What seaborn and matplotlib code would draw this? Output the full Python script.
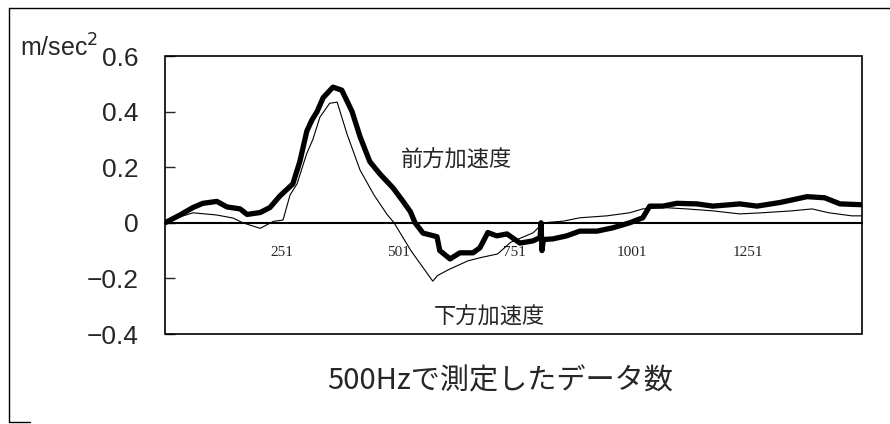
import numpy as np
import pandas as pd
import seaborn as sns
import matplotlib
matplotlib.use("Agg")
import matplotlib.pyplot as plt
from matplotlib.patches import Rectangle
from matplotlib.lines import Line2D

# 前方加速度 (thick line)
fwd_n = [1, 33, 61, 82, 112, 134, 162, 177, 205, 226, 247, 275, 290, 305, 316,
         327, 340, 361, 380, 402, 419, 440, 462, 490, 510, 527, 537, 554, 584,
         590, 612, 633, 661, 676, 693, 712, 734, 762, 790, 805, 807, 809, 812,
         832, 862, 890, 927, 961, 997, 1025, 1040, 1068, 1098, 1141, 1175, 1212,
         1233, 1270, 1319, 1347, 1377, 1415, 1448, 1495]
fwd_v = [0.0, 0.028, 0.055, 0.07, 0.077, 0.057, 0.05, 0.03, 0.037, 0.055, 0.096,
         0.14, 0.22, 0.33, 0.37, 0.40, 0.45, 0.488, 0.477, 0.40, 0.31, 0.22,
         0.175, 0.125, 0.08, 0.04, 0.0, -0.037, -0.05, -0.10, -0.13, -0.108,
         -0.108, -0.09, -0.035, -0.047, -0.04, -0.073, -0.065, -0.053, 0.0,
         -0.10, -0.06, -0.058, -0.047, -0.03, -0.03, -0.018, 0.0, 0.018, 0.06,
         0.06, 0.07, 0.068, 0.06, 0.065, 0.068, 0.06, 0.073, 0.083, 0.094, 0.09,
         0.068, 0.065]

# 下方加速度 (thin line)
down_n = [1, 12, 61, 112, 147, 168, 205, 233, 254, 269, 284, 305, 318, 333, 354,
          370, 391, 419, 449, 477, 492, 528, 575, 585, 607, 650, 678, 714, 742,
          790, 812, 855, 890, 948, 997, 1025, 1068, 1119, 1175, 1233, 1280, 1345,
          1388, 1424, 1473, 1495]
down_v = [0.0, 0.01, 0.036, 0.028, 0.017, 0.0, -0.02, 0.005, 0.01, 0.10, 0.14,
          0.25, 0.30, 0.38, 0.43, 0.434, 0.32, 0.19, 0.10, 0.03, 0.0, -0.10,
          -0.21, -0.19, -0.17, -0.137, -0.125, -0.112, -0.07, -0.036, 0.0, 0.006,
          0.018, 0.025, 0.036, 0.05, 0.055, 0.05, 0.043, 0.032, 0.036, 0.043,
          0.05, 0.036, 0.025, 0.025]

xticks = [251, 501, 751, 1001, 1251]
yticks = [0.6, 0.4, 0.2, 0.0, -0.2, -0.4]
ylabels = ["0.6", "0.4", "0.2", "0", "\u22120.2", "\u22120.4"]

sns.set_style("white")
plt.rcParams['font.family'] = ['Noto Sans CJK JP', 'DejaVu Sans']

fwd = pd.DataFrame({"n": fwd_n, "v": fwd_v})
down = pd.DataFrame({"n": down_n, "v": down_v})

fig = plt.figure(figsize=(8.9, 4.24), dpi=100)
ax = fig.add_axes([165/890, 1-334/424, (862-165)/890, (334-56)/424])

sns.lineplot(data=down, x="n", y="v", color="black", lw=0.8, ax=ax)
sns.lineplot(data=fwd, x="n", y="v", color="black", lw=3.8, ax=ax)

ax.set_xlim(1, 1495)
ax.set_ylim(-0.4, 0.6)
ax.set_xlabel("")
ax.set_ylabel("")

# axis crosses at zero
for s in ["top", "right", "left"]:
    ax.spines[s].set_visible(False)
ax.spines["bottom"].set_position(("data", 0))
ax.spines["bottom"].set_linewidth(1.5)
ax.spines["bottom"].set_color("black")
ax.add_patch(Rectangle((0, 0), 1, 1, transform=ax.transAxes, fill=False,
                       lw=1.2, ec="black", clip_on=False))

ax.set_xticks(xticks)
ax.set_xticklabels([str(t) for t in xticks], family="Liberation Serif", fontsize=11)
ax.tick_params(axis="x", length=0, pad=17)
ax.set_yticks(yticks)
ax.set_yticklabels(ylabels, family="Liberation Sans", fontsize=19)
ax.tick_params(axis="y", direction="in", length=7, width=1, pad=19, left=True)

ax.text(625, 0.224, "前方加速度", fontsize=16, ha="center", va="center")
ax.text(697, -0.34, "下方加速度", fontsize=16, ha="center", va="center")

fig.text(20/890, 1-57/424, "m/sec$^2$", fontsize=18,
         family="Liberation Sans", ha="left", va="baseline")
fig.text(500/890, 1-381/424, "500Hzで測定したデータ数", fontsize=21,
         ha="center", va="center")

# outer frame
fig.add_artist(Line2D([9/890, 9/890], [1-8/424, 1-422/424], color="black", lw=1))
fig.add_artist(Line2D([9/890, 1.0], [1-8/424, 1-8/424], color="black", lw=1))
fig.add_artist(Line2D([9/890, 30/890], [1-422/424, 1-422/424], color="black", lw=1))

fig.savefig("out.png", dpi=100)
